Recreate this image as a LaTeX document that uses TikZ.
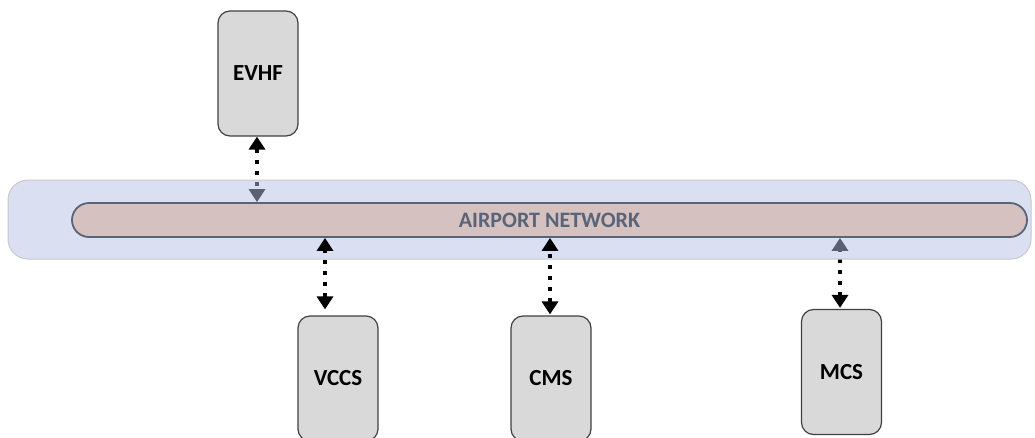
\documentclass[tikz,border=0pt]{standalone}
\usepackage{fontspec}
\setmainfont{Carlito}
\usetikzlibrary{arrows.meta}
\definecolor{bandfill}{RGB}{181,193,229}
\definecolor{bandline}{RGB}{200,200,204}
\definecolor{pillfill}{RGB}{213,193,192}
\definecolor{pillline}{RGB}{90,100,120}
\definecolor{boxfill}{RGB}{217,217,217}
\definecolor{boxline}{RGB}{64,64,64}
\pgfdeclarelayer{under}
\pgfdeclarelayer{area}
\pgfsetlayers{under,area,main}
\tikzset{
  unit/.style={draw=boxline, fill=boxfill, line width=1.2pt, rounded corners=12pt,
    minimum width=80pt, minimum height=125pt, inner sep=0pt,
    font=\fontsize{23}{26}\selectfont\bfseries},
  bus/.style={draw=pillline, fill=pillfill, line width=1.8pt, rounded corners=17pt,
    minimum width=955pt, minimum height=34pt, inner sep=0pt,
    text=pillline, font=\fontsize{22}{25}\selectfont\bfseries},
  link/.style={line width=3.4pt, dash pattern=on 4pt off 7pt,
    {Triangle[width=16pt,length=13pt]}-{Triangle[width=16pt,length=13pt]}}
}
\begin{document}
\begin{tikzpicture}[x=1pt,y=-1pt]
\useasboundingbox (0,0) rectangle (1035,437);

% equipment units
\node[unit] (evhf) at (258,73.5) {EVHF};
\node[unit] (vccs) at (338,378.5) {VCCS};
\node[unit] (cms)  at (551,378.5) {CMS};
\node[unit] (mcs)  at (841.5,372) {MCS};

% network bus
\node[bus] (net) at (549.5,220) {AIRPORT NETWORK};

% attachment points on the bus
\coordinate (x1) at (257,0);
\coordinate (x2) at (325,0);
\coordinate (x3) at (550,0);
\coordinate (x4) at (840,0);

% translucent airport area
\begin{pgfonlayer}{area}
\fill[bandfill, fill opacity=0.5, rounded corners=20pt] (8,180) rectangle (1031,259);
\draw[bandline, line width=1pt, rounded corners=20pt] (8,180) rectangle (1031,259);
\end{pgfonlayer}

% links lying under the area
\begin{pgfonlayer}{under}
\draw[link] (x1 |- evhf.south) -- (x1 |- net.north);
\draw[link, shorten <=1pt] (x4 |- mcs.north) -- (x4 |- net.south);
\end{pgfonlayer}

% links drawn over the area
\draw[link, shorten <=6pt] (x2 |- vccs.north) -- (x2 |- net.south);
\draw[link, shorten <=1pt] (x3 |- cms.north) -- (x3 |- net.south);
\end{tikzpicture}
\end{document}
